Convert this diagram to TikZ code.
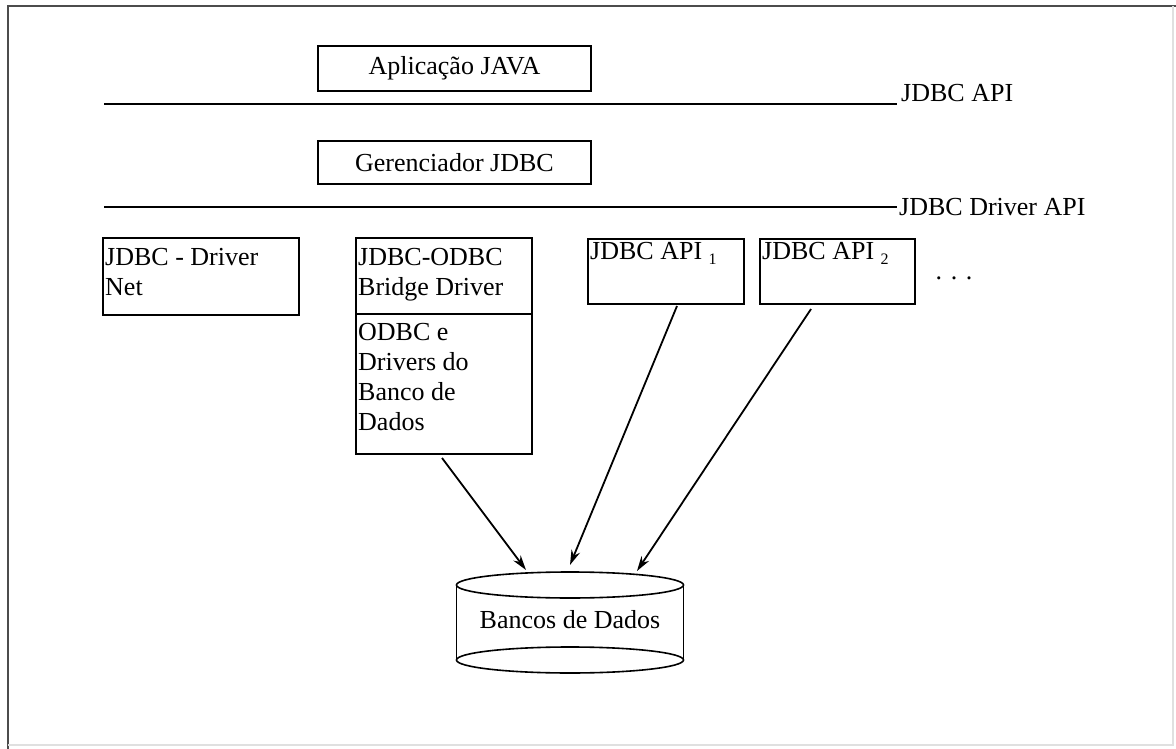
\documentclass[tikz,border=0pt]{standalone}
\usepackage{fontspec}
\setmainfont{Liberation Serif}
\usetikzlibrary{arrows.meta}
\newcommand{\txtsize}{\fontsize{26}{30}\selectfont}
\newcommand{\subsize}{\fontsize{16}{16}\selectfont}
\begin{document}
\begin{tikzpicture}[x=1pt,y=-1pt,
  box/.style={draw, line width=1.9pt, inner sep=0pt, anchor=north west},
  boxtext/.style={anchor=north west, align=left, inner xsep=3pt, inner ysep=11pt, font=\txtsize},
  layer/.style={line width=1.9pt},
  layerlabel/.style={anchor=west, inner sep=2pt, font=\txtsize},
  flow/.style={line width=1.8pt, -{Stealth[length=15pt,width=9pt]}},
  frameline/.style={line width=1.8pt, draw=black!70}]
\useasboundingbox (0,0) rectangle (1176,749);

% outer frame
\draw[frameline] (8,749) -- (8,6) -- (1176,6);
\draw[line width=1.2pt, draw=black!12] (1173,6) -- (1173,745) -- (8,745);

% application and driver manager
\node[box, minimum width=273, minimum height=45] (app) at (317,45) {};
\node[font=\txtsize] at (app.center) {Aplicação JAVA};
\node[box, minimum width=273, minimum height=43] (mgr) at (317,140) {};
\node[font=\txtsize] at (mgr.center) {Gerenciador JDBC};

% API layers
\coordinate (l1a) at (104,104);
\coordinate (l1b) at (897,104);
\draw[layer] (l1a) -- (l1b);
\node[layerlabel, anchor=base west] (api) at (899,102) {JDBC API};
\coordinate (l2a) at (104,207);
\coordinate (l2b) at (897,207);
\draw[layer] (l2a) -- (l2b);
\node[layerlabel] (dapi) at (l2b) {JDBC Driver API};

% drivers
\node[box, minimum width=196, minimum height=77] (net) at (102,237) {};
\node[boxtext] at (net.north west) {JDBC - Driver\\Net};

\node[box, minimum width=176, minimum height=76] (bridge) at (355,237) {};
\node[boxtext] at (bridge.north west) {JDBC-ODBC\\Bridge Driver};
\node[box, minimum width=176, minimum height=140] (odbc) at (355,313) {};
\node[boxtext, inner ysep=10pt] at (odbc.north west) {ODBC e\\Drivers do\\Banco de\\Dados};

\node[box, minimum width=156, minimum height=65] (api1) at (587,238) {};
\node[boxtext, inner ysep=4pt] at (api1.north west) {JDBC API \raisebox{-0.4ex}{\subsize 1}};
\node[box, minimum width=155, minimum height=65] (api2) at (759,238) {};
\node[boxtext, inner ysep=4pt] at (api2.north west) {JDBC API \raisebox{-0.4ex}{\subsize 2}};

\node[font=\txtsize] (dots) at (954,278) {. . .};

% database cylinder
\coordinate (dbtop) at (570,585);
\coordinate (dbbot) at (570,660);
\draw[line width=1.6pt] (dbtop) ellipse [x radius=113.5, y radius=13];
\draw[line width=1.6pt] (dbbot) ellipse [x radius=113.5, y radius=13];
\draw[line width=1.6pt] ([xshift=-113.5]dbtop) -- ([xshift=-113.5]dbbot);
\draw[line width=1.6pt] ([xshift=113.5]dbtop) -- ([xshift=113.5]dbbot);
\node[font=\txtsize] (db) at (570,620) {Bancos de Dados};

% connections into the database
\coordinate (s1) at (442,458);
\coordinate (t1) at (526,570);
\coordinate (s2) at (677,306);
\coordinate (t2) at (570,565);
\coordinate (s3) at (811,309);
\coordinate (t3) at (637,571);
\draw[flow] (s1) -- (t1);
\draw[flow] (s2) -- (t2);
\draw[flow] (s3) -- (t3);
\end{tikzpicture}
\end{document}
